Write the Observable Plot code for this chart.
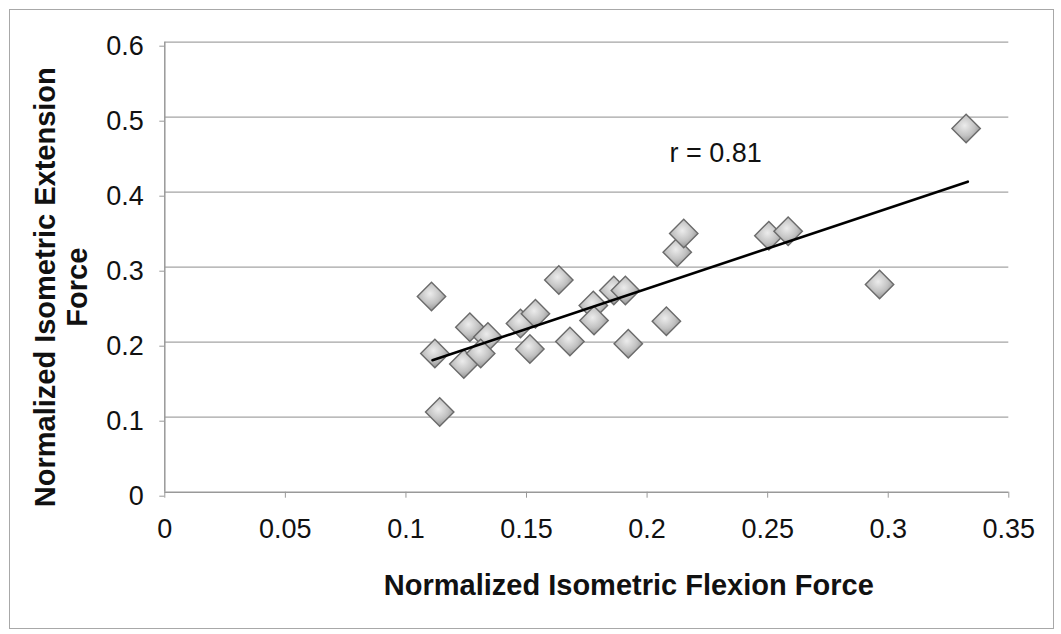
<!DOCTYPE html>
<html>
<head>
<meta charset="utf-8">
<script src="https://cdn.jsdelivr.net/npm/d3@7"></script>
<script src="https://cdn.jsdelivr.net/npm/@observablehq/plot@0.6"></script>
<style>
  html, body { margin: 0; padding: 0; background: #fff; }
  #wrap { position: relative; width: 1061px; height: 634px; overflow: hidden; background: #fff; }
  #frame { position: absolute; left: 9px; top: 9px; width: 1043px; height: 618px; border: 1px solid #a8a8a8; pointer-events: none; }
  #chart { position: absolute; left: 0; top: 0; }
</style>
</head>
<body>
<div id="wrap"><div id="chart"></div><div id="frame"></div></div>
<script>
// Data
const flexion   = [0.1106, 0.1140, 0.1120, 0.1265, 0.1240, 0.1340, 0.1310, 0.1475, 0.1537, 0.1514, 0.1634, 0.1680,
                   0.1777, 0.1780, 0.1862, 0.1910, 0.1922, 0.2080, 0.2125, 0.2152, 0.2505, 0.2585, 0.2964, 0.3323];
const extension = [0.261, 0.107, 0.185, 0.220, 0.171, 0.207, 0.185, 0.225, 0.238, 0.191, 0.283, 0.201,
                   0.249, 0.229, 0.269, 0.269, 0.198, 0.228, 0.320, 0.345, 0.342, 0.348, 0.277, 0.485];
const trendX = [0.111, 0.333];
const trendY = [0.176, 0.414];
const xTicks = [0, 0.05, 0.1, 0.15, 0.2, 0.25, 0.3, 0.35];
const yTicks = [0, 0.1, 0.2, 0.3, 0.4, 0.5, 0.6];
const xTitle = "Normalized Isometric Flexion Force";
const yTitle = "Normalized Isometric Extension\nForce";
const note = "r = 0.81";
const notePos = {x: 0.2284, y: 0.4516};

const points = flexion.map((f, i) => ({flexion: f, extension: extension[i]}));
const trend = trendX.map((x, i) => ({x, y: trendY[i]}));

const font = "'Liberation Sans', Arial, Helvetica, sans-serif";

const chart = Plot.plot({
  width: 1061,
  height: 634,
  marginLeft: 164.3,
  marginRight: 52.7,
  marginTop: 41.7,
  marginBottom: 142.3,
  style: {fontFamily: font, background: "transparent", color: "#111"},
  x: {domain: [0, 0.35]},
  y: {domain: [0, 0.6]},
  marks: [
    Plot.ruleY(yTicks.filter(d => d > 0), {stroke: "#a4a4a4", strokeWidth: 1.2, x1: 0, x2: 0.35}),
    Plot.axisY({ticks: yTicks, tickSize: 5, tickPadding: 16, tickFormat: d => String(d), fontSize: 27, dy: 4, stroke: "#999", fill: "#111", label: null}),
    Plot.axisX({ticks: xTicks, tickSize: 6, tickPadding: 21, tickFormat: d => String(d), fontSize: 27, stroke: "#999", fill: "#111", label: null}),
    Plot.ruleX([0], {stroke: "#999", strokeWidth: 1.5}),
    Plot.ruleY([0], {stroke: "#999", strokeWidth: 1.5}),
    Plot.dot(points, {x: "flexion", y: "extension", symbol: "diamond2", r: 12.8, fill: "url(#diamondFill)", stroke: "#6a6a6a", strokeWidth: 1.4}),
    Plot.line(trend, {x: "x", y: "y", stroke: "#000", strokeWidth: 2.6}),
    Plot.text([note], {x: () => notePos.x, y: () => notePos.y, text: d => d, fontSize: 27, fill: "#111"}),
    Plot.text([xTitle], {frameAnchor: "bottom", text: d => d, textAnchor: "middle", dx: 42, dy: 94, lineAnchor: "middle", fontSize: 29, fontWeight: "bold", fill: "#111"}),
    Plot.text([yTitle], {frameAnchor: "left", text: d => d, textAnchor: "middle", rotate: -90, dx: -104, dy: 20, lineAnchor: "middle", lineHeight: 1.12, fontSize: 29, fontWeight: "bold", fill: "#111"})
  ]
});

const svg = d3.select(chart);
const defs = svg.insert("defs", ":first-child");
const g = defs.append("radialGradient").attr("id", "diamondFill").attr("cx", "45%").attr("cy", "40%").attr("r", "60%");
g.append("stop").attr("offset", "0%").attr("stop-color", "#ececec");
g.append("stop").attr("offset", "60%").attr("stop-color", "#c2c2c2");
g.append("stop").attr("offset", "100%").attr("stop-color", "#949494");

document.getElementById("chart").appendChild(chart);
</script>
</body>
</html>
